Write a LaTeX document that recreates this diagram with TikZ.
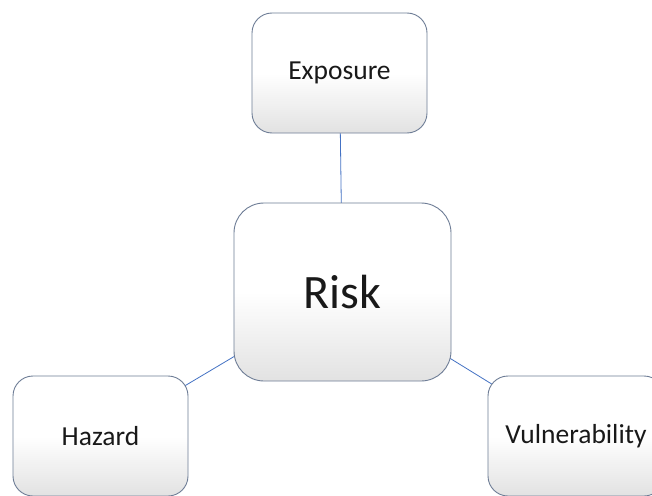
\documentclass[tikz,border=0pt]{standalone}
\usepackage{fontspec}
\setmainfont{Carlito}
\usetikzlibrary{backgrounds}
\definecolor{boxborder}{RGB}{110,125,150}
\definecolor{linkblue}{RGB}{68,114,196}
\definecolor{shadebottom}{RGB}{226,226,226}
\pgfdeclareverticalshading{boxshade}{100bp}{color(0bp)=(shadebottom); color(25bp)=(shadebottom); color(50bp)=(white); color(100bp)=(white)}
\tikzset{
  riskbox/.style={draw=boxborder, line width=0.9pt, rectangle,
    shading=boxshade, inner sep=0pt, text=black!90},
  smallbox/.style={riskbox, minimum width=175pt, minimum height=120pt,
    rounded corners=20pt, font=\fontsize{27.5}{32}\selectfont},
  bigbox/.style={riskbox, minimum width=217pt, minimum height=178pt,
    rounded corners=30pt, font=\fontsize{48}{56}\selectfont},
  link/.style={draw=linkblue, line width=0.8pt}
}
\begin{document}
\begin{tikzpicture}[x=1pt,y=-1pt]
\useasboundingbox (0,0) rectangle (652,495);
\clip (0,0) rectangle (652,495);
\node[smallbox] (E) at (339.5,73) {Exposure};
\node[bigbox] (R) at (342.5,292) {Risk};
\node[smallbox] (H) at (100.5,436) {Hazard};
\node[smallbox, minimum width=176pt] (V) at (576,436) {Vulnerability};
\begin{scope}[on background layer]
  \fill[white] (0,0) rectangle (652,495);
  \draw[link] (E.center) -- (R.center);
  \draw[link] (H.center) -- (R.center);
  \draw[link] (R.center) -- (V.center);
\end{scope}
\end{tikzpicture}
\end{document}
